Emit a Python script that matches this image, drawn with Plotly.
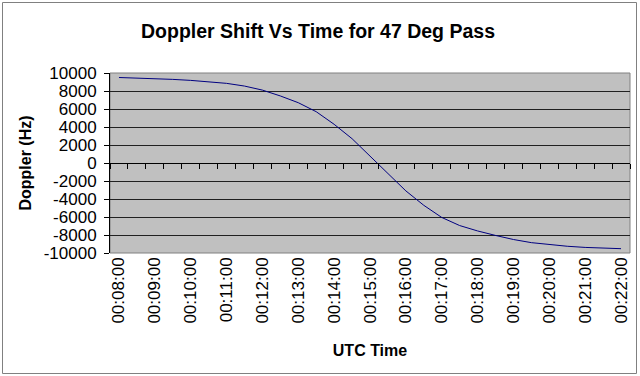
import plotly.graph_objects as go

# Data: Doppler shift sampled every 30 s, 00:08:00 .. 00:22:00
times = ["00:08:00", "00:08:30", "00:09:00", "00:09:30", "00:10:00", "00:10:30",
         "00:11:00", "00:11:30", "00:12:00", "00:12:30", "00:13:00", "00:13:30",
         "00:14:00", "00:14:30", "00:15:00", "00:15:30", "00:16:00", "00:16:30",
         "00:17:00", "00:17:30", "00:18:00", "00:18:30", "00:19:00", "00:19:30",
         "00:20:00", "00:20:30", "00:21:00", "00:21:30", "00:22:00"]
doppler = [9500, 9450, 9380, 9290, 9180, 9050, 8850, 8550, 8100, 7450, 6700, 5700,
           4300, 2700, 800, -1150, -3100, -4700, -6050, -6950, -7550, -8050, -8500,
           -8850, -9080, -9250, -9380, -9460, -9520]
y_ticks = list(range(-10000, 10001, 2000))
y_tick_labels = [str(v) for v in y_ticks]
x_label_times = times[::2]

# plot area geometry (px) for paper-coordinate conversion of decorations
L, R, T, B = 110, 630, 73, 253
W, H = 640, 376
def px(x):
    return (x - L) / (R - L)
def py(y):
    return (B - y) / (B - T)

fig = go.Figure()
fig.add_trace(go.Scatter(x=times, y=doppler, mode="lines",
                         line=dict(color="#000080", width=1),
                         showlegend=False, hoverinfo="x+y"))
# invisible copy on a numeric axis used only for the zero-crossing tick axis
fig.add_trace(go.Scatter(x=list(range(len(times))), y=doppler, xaxis="x2",
                         mode="lines", line=dict(color="rgba(0,0,0,0)", width=0),
                         showlegend=False, hoverinfo="skip"))

font_family = "Arial, Liberation Sans, sans-serif"

fig.update_layout(
    width=W, height=H,
    margin=dict(l=L, r=W - R, t=T, b=H - B, autoexpand=False),
    paper_bgcolor="white",
    plot_bgcolor="#c0c0c0",
    font=dict(family=font_family, color="black", size=16),
    title=dict(text="<b>Doppler Shift Vs Time for 47 Deg Pass</b>",
               x=318 / W, xanchor="center", y=1 - 31 / H, yanchor="middle",
               yref="container", xref="container",
               font=dict(size=19.5, family=font_family)),
    xaxis=dict(type="category", range=[-0.5, len(times) - 0.5],
               tickmode="array", tickvals=x_label_times, ticktext=x_label_times,
               tickangle=-90, ticks="", showgrid=False, showline=False,
               zeroline=False, tickfont=dict(size=17), automargin=False,
               title=dict(text="<b>UTC Time</b>", font=dict(size=16), standoff=22)),
    xaxis2=dict(overlaying="x", anchor="free", position=0.5, side="bottom",
                range=[-0.5, len(times) - 0.5], tickmode="array",
                tickvals=[i - 0.5 for i in range(len(times) + 1)],
                ticks="outside", ticklen=5, tickcolor="black", tickwidth=1,
                showticklabels=False, showgrid=False, showline=True,
                linecolor="black", linewidth=1, zeroline=False, automargin=False),
    yaxis=dict(range=[-10000, 10000], tickmode="array", tickvals=y_ticks,
               ticktext=y_tick_labels,
               ticks="outside", ticklen=5, tickcolor="black",
               showline=True, linecolor="black", linewidth=1,
               showgrid=True, gridcolor="#202020", gridwidth=1, zeroline=False,
               tickfont=dict(size=17), automargin=False, ticklabelstandoff=4,
               title=dict(text="<b>Doppler (Hz)</b>", font=dict(size=16), standoff=8)),
    shapes=[
        dict(type="rect", xref="paper", yref="paper", x0=0, x1=1, y0=0, y1=1,
             line=dict(color="#808080", width=1), layer="below"),
        dict(type="rect", xref="paper", yref="paper",
             x0=px(2.5), x1=px(636.5), y0=py(2.5), y1=py(373.5),
             line=dict(color="#808080", width=1), layer="below"),
    ],
)

fig.write_html("out.html", config={"displayModeBar": False},
               post_script="document.body.style.margin='0';")
